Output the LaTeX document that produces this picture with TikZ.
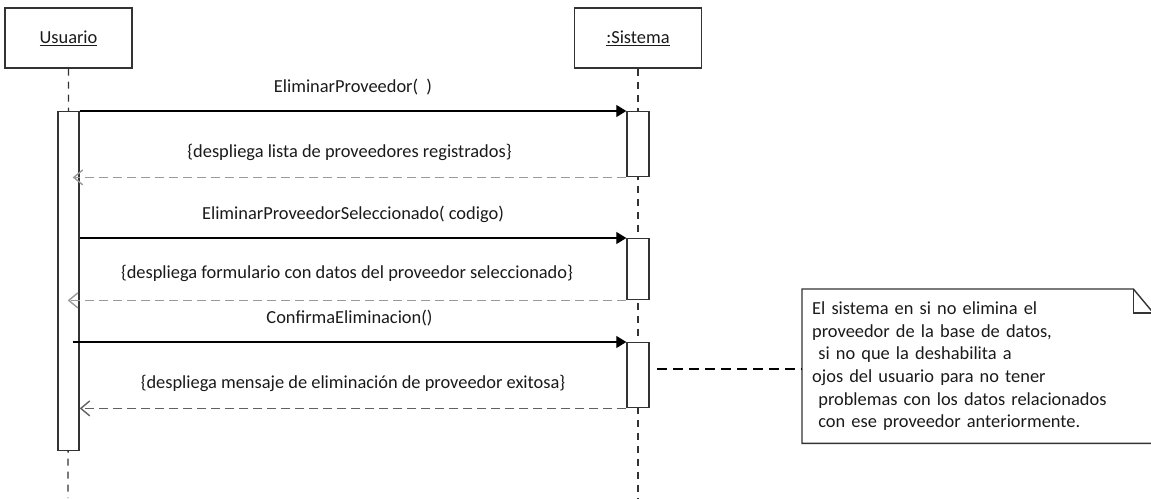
\documentclass[tikz,border=0pt]{standalone}
\usepackage{fontspec}
\setmainfont{Carlito}
\usetikzlibrary{arrows.meta,calc}
\definecolor{linec}{HTML}{333333}
\definecolor{txtc}{HTML}{1A1A1A}
\definecolor{retgray}{HTML}{9A9A9A}
\begin{document}
\begin{tikzpicture}[x=1pt,y=-1pt,
  font=\fontsize{18.4}{22.6}\selectfont, text=txtc,
  actor/.style={draw=linec, line width=1.4pt, fill=white, minimum width=127pt, minimum height=60pt, inner sep=0pt},
  actbar/.style={draw=linec, line width=1.4pt, fill=white, inner sep=0pt, anchor=north},
  lifeline/.style={draw=linec, line width=1.4pt, dash pattern=on 7pt off 6pt},
  callmsg/.style={draw=black, line width=1.3pt, -{Triangle[length=10pt,width=12pt]}},
  retmsg/.style={draw=retgray, line width=1.4pt, dash pattern=on 9pt off 5pt, -{Straight Barb[length=9pt,width=15pt,line width=1.4pt]}},
  retdark/.style={draw=black!62, line width=1.4pt, dash pattern=on 9pt off 5pt, -{Straight Barb[length=9pt,width=15pt,line width=1.4pt]}},
  lbl/.style={midway, yshift=25pt, inner sep=0pt},
  notelink/.style={draw=black, line width=1.4pt, dash pattern=on 10pt off 6pt}
]
\useasboundingbox (0,0) rectangle (1151,498);

% actors
\node[actor] (usuario) at (68.5,38) {\underline{Usuario}};
\node[actor] (sistema) at (638,38) {\underline{:Sistema}};
\coordinate (uend) at (68,498);
\coordinate (send) at (638,498);

% lifelines
\draw[lifeline] (usuario.south) -- (uend);
\draw[lifeline] (sistema.south) -- (send);

% activations
\node[actbar, minimum width=21pt, minimum height=339pt] (ua) at (68.5,111) {};
\node[actbar, minimum width=22pt, minimum height=65pt] (sa1) at (638,111) {};
\node[actbar, minimum width=22pt, minimum height=61pt] (sa2) at (638,238) {};
\node[actbar, minimum width=22pt, minimum height=65pt] (sa3) at (638,342) {};

% messages
\draw[callmsg] (ua.east |- sa1.north) -- (sa1.north west)
  node[lbl, yshift=-1pt] {EliminarProveedor(\ \ )};
\draw[retmsg] (sa1.south west) -- ($(ua.east |- sa1.south)+(-7,0)$)
  node[lbl] {\{despliega lista de proveedores registrados\}};
\draw[callmsg] (ua.east |- sa2.north) -- (sa2.north west)
  node[lbl, yshift=-1pt] {EliminarProveedorSeleccionado( codigo)};
\draw[retmsg] (sa2.south west) -- ($(ua.east |- sa2.south)+(-12,0)$)
  node[lbl, yshift=2pt] {\{despliega formulario con datos del proveedor seleccionado\}};
\draw[callmsg] ($(ua.east |- sa3.north)+(-7,0)$) -- (sa3.north west)
  node[lbl, yshift=-1pt] {ConfirmaEliminacion()};
\draw[retdark] (sa3.south west) -- (ua.east |- sa3.south)
  node[lbl] {\{despliega mensaje de eliminación de proveedor exitosa\}};

% note
\node[anchor=north west, minimum width=351pt, minimum height=154pt, text width=331pt,
      inner xsep=10pt, inner ysep=0pt, align=left] (note) at (802,289)
  {El sistema en si no elimina el\\
   proveedor de la base de datos,\\
   \mbox{}\ si no que la deshabilita a\\
   ojos del usuario para no tener\\
   \mbox{}\ problemas con los datos relacionados\\
   \mbox{}\ con ese proveedor anteriormente.};
\draw[draw=linec, line width=1.4pt]
  (note.north west) -- ([xshift=-20pt]note.north east) -- ([yshift=-24pt]note.north east)
  -- (note.south east) -- (note.south west) -- cycle;
\draw[draw=linec, line width=1.4pt]
  ([xshift=-20pt]note.north east) -- ([xshift=-20pt,yshift=-24pt]note.north east)
  -- ([yshift=-24pt]note.north east);

% note link
\coordinate (nl) at (657,369);
\draw[notelink] (nl) -- (note.west |- nl);
\end{tikzpicture}
\end{document}
